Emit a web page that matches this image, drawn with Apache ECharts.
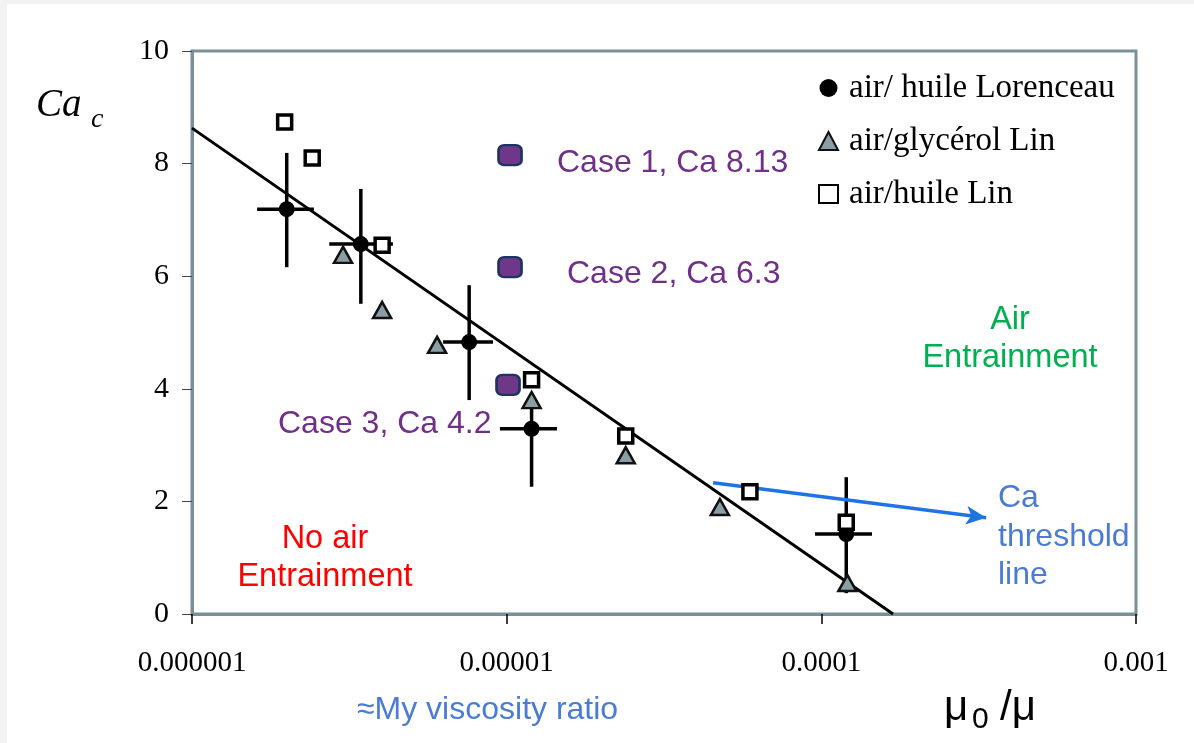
<!DOCTYPE html>
<html>
<head>
<meta charset="utf-8">
<script src="https://cdn.jsdelivr.net/npm/echarts@6/dist/echarts.min.js"></script>
<style>
    html, body { margin: 0; padding: 0; background: #f2f2f2; }
    #sheet { position: absolute; left: 7px; top: 4px; width: 1187px; height: 739px; background: #fff; }
    #main { position: absolute; left: 0; top: 0; width: 1194px; height: 743px; }
</style>
</head>
<body>
<div id="sheet"></div>
<div id="main"></div>
<script>
    // air/ huile Lorenceau : points + barres d'erreur
    const lorX   = [2.0e-6, 3.44e-6, 7.6e-6, 1.2e-5, 1.2e-4];
    const lorY   = [7.19, 6.57, 4.83, 3.29, 1.42];
    const lorXLo = [1.61e-6, 2.73e-6, 6.28e-6, 9.52e-6, 9.55e-5];
    const lorXHi = [2.44e-6, 4.35e-6, 9.05e-6, 1.445e-5, 1.449e-4];
    const lorYLo = [6.16, 5.51, 3.80, 2.26, 0.37];
    const lorYHi = [8.19, 7.55, 5.84, 3.85, 2.43];

    // air/glycérol Lin
    const glyX = [3.02e-6, 4.02e-6, 6.01e-6, 1.2e-5, 2.39e-5, 4.76e-5, 1.21e-4];
    const glyY = [6.38, 5.40, 4.78, 3.80, 2.82, 1.90, 0.55];

    // air/huile Lin
    const linX = [1.97e-6, 2.41e-6, 4.02e-6, 1.2e-5, 2.39e-5, 5.93e-5, 1.2e-4];
    const linY = [8.74, 8.10, 6.55, 4.16, 3.16, 2.17, 1.63];

    // mes cas
    const caseX = [1.025e-5, 1.025e-5, 1.01e-5];
    const caseY = [8.15, 6.16, 4.07];

    // droite seuil et flèche
    const fitX = [1e-6, 1.69e-4];
    const fitY = [8.63, 0];
    const arrowX = [4.53e-5, 3.34e-4];
    const arrowY = [2.33, 1.71];

    const xTicks = [1e-6, 1e-5, 1e-4, 1e-3];
    const yTicks = [0, 2, 4, 6, 8, 10];

    const serif = 'Liberation Serif';
    const frame = '#7a9098';

    const zip = (xs, ys) => xs.map((x, i) => [x, ys[i]]);

    const chart = echarts.init(document.getElementById('main'));

    const option = {
        animation: false,
        grid: {
            left: 192, right: 58, top: 51, bottom: 129,
            show: true, borderColor: frame, borderWidth: 3
        },
        legend: {
            orient: 'vertical',
            left: 813, top: 65,
            itemWidth: 19, itemHeight: 18,
            itemGap: 17,
            textStyle: { fontFamily: serif, fontSize: 33, color: '#000', lineHeight: 36, padding: [0, 0, 0, 6] },
            data: ['air/ huile Lorenceau', 'air/glycérol Lin', 'air/huile Lin']
        },
        xAxis: {
            type: 'log', logBase: 10,
            min: xTicks[0], max: xTicks[xTicks.length - 1],
            axisLine: { lineStyle: { color: frame, width: 3 } },
            axisTick: { show: true, length: 10, lineStyle: { color: '#000', width: 1.5 } },
            minorTick: { show: false },
            splitLine: { show: false },
            axisLabel: {
                margin: 35, color: '#000', fontFamily: serif, fontSize: 29,
                formatter: v => v.toFixed(Math.round(-Math.log10(v)))
            }
        },
        yAxis: {
            type: 'value', min: yTicks[0], max: yTicks[yTicks.length - 1], interval: 2,
            axisLine: { show: true, lineStyle: { color: frame, width: 3 } },
            axisTick: { show: true, length: 10, lineStyle: { color: '#444', width: 1 } },
            splitLine: { show: false },
            axisLabel: { margin: 23, color: '#000', fontFamily: serif, fontSize: 30 }
        },
        series: [
            {
                name: 'fit', type: 'line', data: zip(fitX, fitY),
                symbol: 'none', lineStyle: { color: '#000', width: 3 }, silent: true, z: 2
            },
            {
                name: 'erreurs', type: 'custom',
                data: lorX.map((x, i) => [x, lorY[i], lorXLo[i], lorXHi[i], lorYLo[i], lorYHi[i]]),
                encode: { x: [0, 2, 3], y: [1, 4, 5] },
                renderItem: function (params, api) {
                    const l = api.coord([api.value(2), api.value(1)]);
                    const r = api.coord([api.value(3), api.value(1)]);
                    const b = api.coord([api.value(0), api.value(4)]);
                    const t = api.coord([api.value(0), api.value(5)]);
                    const st = { stroke: '#000', lineWidth: 3.5 };
                    return {
                        type: 'group',
                        children: [
                            { type: 'line', shape: { x1: l[0], y1: l[1], x2: r[0], y2: r[1] }, style: st },
                            { type: 'line', shape: { x1: t[0], y1: t[1], x2: b[0], y2: b[1] }, style: st }
                        ]
                    };
                },
                silent: true, z: 3
            },
            {
                name: 'air/ huile Lorenceau', type: 'scatter', data: zip(lorX, lorY),
                symbol: 'circle', symbolSize: 16, itemStyle: { color: '#000', opacity: 1 }, z: 4
            },
            {
                name: 'air/glycérol Lin', type: 'scatter', data: zip(glyX, glyY),
                symbol: 'triangle', symbolSize: [18, 16],
                itemStyle: { color: '#8a9ea5', borderColor: '#111', borderWidth: 2.5, opacity: 1 }, z: 5
            },
            {
                name: 'air/huile Lin', type: 'scatter', data: zip(linX, linY),
                symbol: 'rect', symbolSize: 14,
                itemStyle: { color: '#fff', borderColor: '#000', borderWidth: 3.5, opacity: 1 }, z: 6
            },
            {
                name: 'cases', type: 'scatter', data: zip(caseX, caseY),
                symbol: 'roundRect', symbolSize: [23, 20],
                itemStyle: { color: '#6e3787', borderColor: '#1c3464', borderWidth: 2.5, opacity: 1 }, z: 6
            },
            {
                name: 'seuil', type: 'line', data: [], z: 7,
                markLine: {
                    silent: true, animation: false,
                    symbol: ['none', 'arrow'], symbolSize: [14, 20],
                    label: { show: false },
                    lineStyle: { color: '#1e74e4', width: 3.5, type: 'solid' },
                    data: [[{ coord: [arrowX[0], arrowY[0]] }, { coord: [arrowX[1], arrowY[1]] }]]
                }
            }
        ],
        graphic: [
            { type: 'text', left: 36, top: 86, style: { text: 'Ca', font: 'italic 39px "Liberation Serif"', fill: '#000' } },
            { type: 'text', left: 91, top: 106, style: { text: 'c', font: 'italic 28px "Liberation Serif"', fill: '#000' } },
            { type: 'text', x: 557, y: 163, style: { text: 'Case 1, Ca 8.13', font: '32px "Liberation Sans"', fill: '#702f8a', verticalAlign: 'middle' } },
            { type: 'text', x: 567, y: 274, style: { text: 'Case 2, Ca 6.3', font: '32px "Liberation Sans"', fill: '#702f8a', verticalAlign: 'middle' } },
            { type: 'text', x: 278, y: 424, style: { text: 'Case 3, Ca 4.2', font: '32px "Liberation Sans"', fill: '#702f8a', verticalAlign: 'middle' } },
            { type: 'text', x: 1010, y: 301, style: { text: 'Air\nEntrainment', font: '32.5px "Liberation Sans"', lineHeight: 38, fill: '#00b050', align: 'center' } },
            { type: 'text', x: 325, y: 520, style: { text: 'No air\nEntrainment', font: '32.5px "Liberation Sans"', lineHeight: 38, fill: '#ff0000', align: 'center' } },
            { type: 'text', x: 998, y: 479, style: { text: 'Ca\nthreshold\nline', font: '32px "Liberation Sans"', lineHeight: 38.5, fill: '#4a7bd6' } },
            { type: 'text', x: 357, y: 710, style: { text: '≈My viscosity ratio', font: '32px "Liberation Sans"', fill: '#4a7bd6', verticalAlign: 'middle' } },
            { type: 'text', x: 944, y: 729, style: { text: 'μ', font: '42px "Liberation Sans"', fill: '#000', verticalAlign: 'bottom' } },
            { type: 'text', x: 972, y: 735, style: { text: '0', font: '30px "Liberation Sans"', fill: '#000', verticalAlign: 'bottom' } },
            { type: 'text', x: 1000, y: 729, style: { text: '/μ', font: '42px "Liberation Sans"', fill: '#000', verticalAlign: 'bottom' } }
        ]
    };

    chart.setOption(option);
</script>
</body>
</html>
